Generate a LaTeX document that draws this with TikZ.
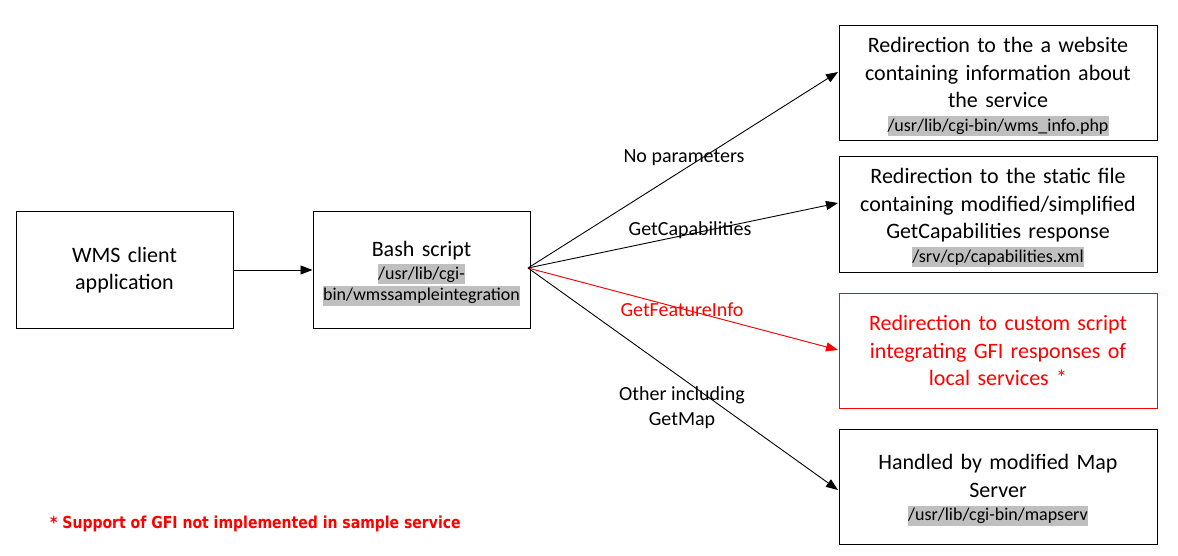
\documentclass[tikz,border=0pt]{standalone}
\usepackage{fontspec}
\setmainfont{Carlito}
\newfontfamily\notefont{DejaVu Sans}
\usetikzlibrary{arrows.meta}
\definecolor{hlgray}{RGB}{191,191,191}
\definecolor{myred}{RGB}{255,0,0}
\newcommand{\hlpath}[1]{{\setlength{\fboxsep}{0pt}\colorbox{hlgray}{\rule[-5pt]{0pt}{20pt}#1}}}
\newcommand{\topgap}{\rule{0pt}{22pt}}
\tikzset{
  box/.style={draw, line width=1pt, rectangle, inner sep=0pt, align=center,
    font=\fontsize{22}{27.5}\selectfont},
  smallbox/.style={box, minimum width=217pt, minimum height=116pt, text width=212pt},
  bigbox/.style={box, minimum width=318pt, minimum height=115pt, text width=312pt},
  conn/.style={line width=0.9pt, -{Triangle[length=12pt,width=9pt]}},
  lbl/.style={font=\fontsize{20}{25}\selectfont, align=center, inner sep=1pt}
}
\newcommand{\pth}{\fontsize{18}{22}\selectfont}
\begin{document}
\begin{tikzpicture}[x=1pt,y=-1pt]
\useasboundingbox (0,0) rectangle (1178,556);
% left boxes
\node[smallbox] (client) at (124.5,270) {WMS client\\application};
\node[smallbox] (bash) at (421.5,270) {\topgap Bash script\\[-5pt]{\pth\hlpath{/usr/lib/cgi-}}\\[-6pt]{\pth\hlpath{bin/wmssampleintegration}}};
% right boxes
\node[bigbox] (info) at (998,83.5) {\topgap Redirection to the a website\\containing information about\\the service\\[-4pt]{\pth\hlpath{/usr/lib/cgi-bin/wms\_info.php}}};
\node[bigbox] (caps) at (998,214.5) {\topgap Redirection to the static file\\containing modified/simplified\\GetCapabilities response\\[-4pt]{\pth\hlpath{/srv/cp/capabilities.xml}}};
\node[bigbox, draw=myred, text=myred] (gfi) at (998,350.5) {Redirection to custom script\\integrating GFI responses of\\local services *};
\node[bigbox] (map) at (998,486.5) {\topgap Handled by modified Map\\Server\\[-4pt]{\pth\hlpath{/usr/lib/cgi-bin/mapserv}}};
% arrow end points
\coordinate (s) at (528,268);
\coordinate (e1) at (838,72);
\coordinate (e2) at (838,203);
\coordinate (e3) at (838,350);
\coordinate (e4) at (838,490);
% connectors
\draw[conn] (client.east) -- (client.east -| bash.west);
\draw[conn] (s) -- (e1);
\draw[conn] (s) -- (e2);
\draw[conn, draw=myred, fill=myred] (s) -- (e3);
\draw[conn] (s) -- (e4);
% labels
\node[lbl] (l1) at (684,158) {No parameters};
\node[lbl] (l2) at (690,230) {GetCapabilities};
\node[lbl, text=myred] (l3) at (682,310) {GetFeatureInfo};
\node[lbl] (l4) at (682,408) {Other including\\GetMap};
% footnote
\node[font=\notefont\bfseries\fontsize{16.5}{18}\selectfont, text=myred, anchor=west, inner sep=0pt] (note) at (50,524) {\scalebox{0.85}[1]{* Support of GFI not implemented in sample service}};
\end{tikzpicture}
\end{document}
